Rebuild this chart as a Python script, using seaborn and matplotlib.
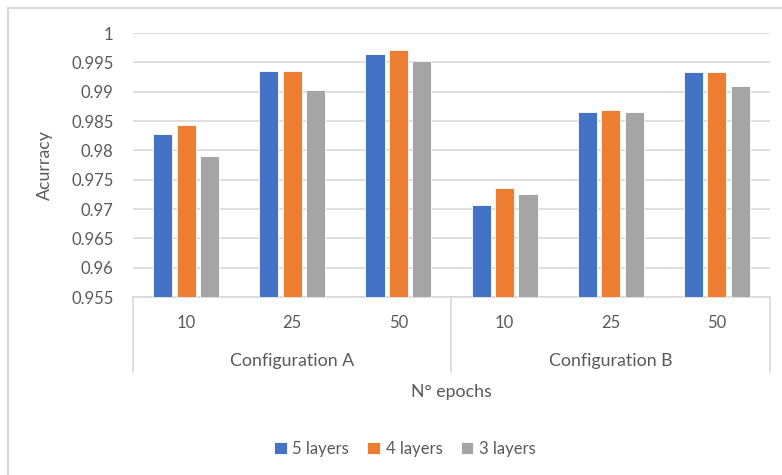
import numpy as np
import pandas as pd
import matplotlib
matplotlib.use("Agg")
import matplotlib.pyplot as plt
import matplotlib.transforms as mtransforms
from matplotlib.lines import Line2D
import seaborn as sns

# data
configs = ["Configuration A", "Configuration A", "Configuration A",
           "Configuration B", "Configuration B", "Configuration B"]
epochs = ["10", "25", "50", "10", "25", "50"]
five_layers = [0.9828, 0.9935, 0.9964, 0.9707, 0.9866, 0.9934]
four_layers = [0.9843, 0.9935, 0.9971, 0.9735, 0.9868, 0.9934]
three_layers = [0.9791, 0.9903, 0.9953, 0.9725, 0.9866, 0.9910]
layer_names = ["5 layers", "4 layers", "3 layers"]
y_ticks = [0.955, 0.96, 0.965, 0.97, 0.975, 0.98, 0.985, 0.99, 0.995, 1.0]

BLUE, ORANGE, GRAY = "#4472C4", "#ED7D31", "#A5A5A5"
TEXT = "#595959"
LINE = "#D9D9D9"

runs = [f"{c}|{e}" for c, e in zip(configs, epochs)]
df = pd.DataFrame({
    "run": runs * 3,
    "layers": np.repeat(layer_names, len(runs)),
    "accuracy": five_layers + four_layers + three_layers,
})

sns.set_theme(style="white")
plt.rcParams["font.family"] = ["Lato", "DejaVu Sans"]

fig = plt.figure(figsize=(7.82, 4.75), dpi=100)
ax = fig.add_axes([133 / 782, 1 - 297 / 475, 637 / 782, 264 / 475])

sns.barplot(data=df, x="run", y="accuracy", hue="layers", order=runs,
            hue_order=layer_names, palette=[BLUE, ORANGE, GRAY], saturation=1,
            width=0.66, gap=0.18, edgecolor="white", linewidth=0.6,
            ax=ax, zorder=3)
handles, labels = ax.get_legend_handles_labels()
ax.get_legend().remove()

ax.set_ylim(0.955, 1.0)
ax.set_xlim(-0.5, len(runs) - 0.5)
ax.set_yticks(y_ticks)
ax.set_yticklabels([f"{v:g}" for v in y_ticks])
ax.set_xticks(range(len(runs)))
ax.set_xticklabels(epochs)
ax.tick_params(axis="both", length=0, colors=TEXT, labelsize=12)
ax.tick_params(axis="x", pad=13)
ax.tick_params(axis="y", pad=14)
ax.grid(axis="y", color=LINE, linewidth=1.2, zorder=0)
for side in ["top", "right", "left"]:
    ax.spines[side].set_visible(False)
ax.spines["bottom"].set_color(LINE)
ax.spines["bottom"].set_linewidth(1.2)
ax.set_xlabel("")
ax.set_ylabel("Acurracy", color=TEXT, fontsize=12.8)
ax.yaxis.set_label_coords(-0.126, 0.5)

# grouped category axis: config names and separators
trans = mtransforms.blended_transform_factory(ax.transData, ax.transAxes)
for pos, name in [(1, "Configuration A"), (4, "Configuration B")]:
    ax.text(pos, -0.242, name, transform=trans, ha="center", va="center",
            color=TEXT, fontsize=12.8)
for xs in [-0.5, 2.5, 5.5]:
    ax.plot([xs, xs], [0, -0.284], transform=trans, color=LINE,
            linewidth=1.2, clip_on=False)

fig.text(451 / 782, 1 - 392 / 475, "N° epochs", ha="center", va="center",
         color=TEXT, fontsize=12.8)

fig.legend(handles, labels, loc="center", bbox_to_anchor=(405 / 782, 1 - 449 / 475),
           ncol=3, frameon=False, fontsize=12, labelcolor=TEXT,
           handlelength=0.75, handleheight=0.75, handletextpad=0.35, columnspacing=1.1)

# light chart border on the left and top
fig.add_artist(Line2D([8 / 782, 8 / 782], [0, 1 - 8 / 475], color=LINE, linewidth=1.5))
fig.add_artist(Line2D([8 / 782, 1], [1 - 8 / 475, 1 - 8 / 475], color=LINE, linewidth=1.5))

fig.savefig("out.png", dpi=100, facecolor="white")
